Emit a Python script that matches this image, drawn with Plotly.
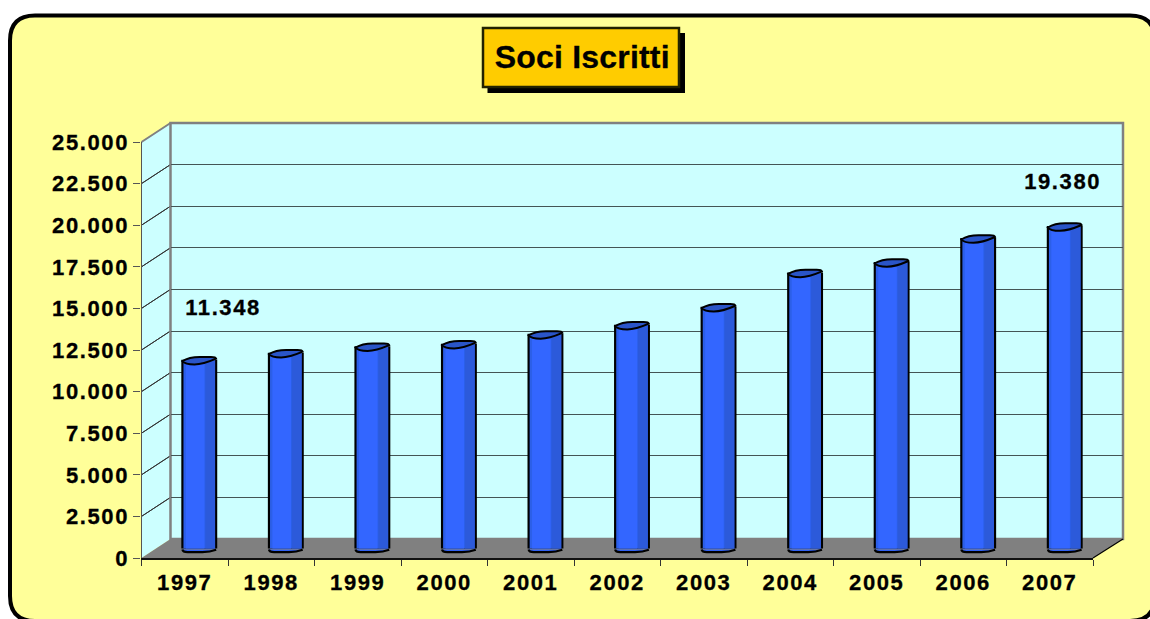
import plotly.graph_objects as go

years = ["1997","1998","1999","2000","2001","2002","2003","2004","2005","2006","2007"]
members = [11348,11770,12160,12310,12900,13450,14530,16590,17220,18660,19380]
y_ticks = [0,2500,5000,7500,10000,12500,15000,17500,20000,22500,25000]
title_text = "Soci Iscritti"
labelled = [0,10]

W,H = 1150,619
FX0,FX1,FY0,FY1 = 141.5,1093,558,142      # front plane (px)
BX0,BX1,BY0,BY1 = 170.5,1123,539,123      # back plane (px)
MX0,MX1 = (FX0+BX0)/2,(FX1+BX1)/2
MY0,MY1 = (FY0+BY0)/2,(FY1+BY1)/2
PPU = (FY0-FY1)/25000
PAD = 600
def px(x): return x/W
def py(y): return 1-y/H
def poly(pts):
    return "M "+" L ".join(f"{px(x):.5f},{py(y):.5f}" for x,y in pts)+" Z"

shapes=[]
def paper(path,fill=None,color=None,width=0,layer="below"):
    shapes.append(dict(type="path",path=path,xref="paper",yref="paper",layer=layer,
        fillcolor=fill or "rgba(0,0,0,0)",line=dict(color=color or "rgba(0,0,0,0)",width=width)))

# outer rounded panel
L,T,R,B,r = 10,15.5,1155,621,25
panel=(f"M {px(L+r)},{py(T)} L {px(R-r)},{py(T)} Q {px(R)},{py(T)} {px(R)},{py(T+r)} "
       f"L {px(R)},{py(B-r)} Q {px(R)},{py(B)} {px(R-r)},{py(B)} L {px(L+r)},{py(B)} "
       f"Q {px(L)},{py(B)} {px(L)},{py(B-r)} L {px(L)},{py(T+r)} Q {px(L)},{py(T)} {px(L+r)},{py(T)} Z")
paper(panel,"#FFFF99","#000000",4)
# title box
paper(poly([(487.5,33),(685,33),(685,93),(487.5,93)]),"#000000")
paper(poly([(483,28),(679,28),(679,87),(483,87)]),"#FFCC00","#222200",2.5)
# walls
paper(poly([(FX0,FY0),(BX0,BY0),(BX0,BY1),(FX0,FY1)]),"#CCFFFF")
paper(poly([(BX0,BY0),(BX1,BY0),(BX1,BY1),(BX0,BY1)]),"#CCFFFF")
paper(poly([(FX0,FY0),(BX0,BY0),(BX1,BY0),(FX1,FY0)]),"#808080")
for v in y_ticks[1:-1]:
    d=v*PPU
    paper(poly([(FX0,FY0-d),(BX0,BY0-d)]),None,"#333333",1)
paper(poly([(BX0,BY0),(BX0,BY1),(BX1,BY1),(BX1,BY0)]),None,"#808080",2.5)
paper(poly([(FX0,FY1),(BX0,BY1)]),None,"#808080",2)
paper(poly([(FX1,FY0),(BX1,BY0)]),None,"#000000",1.2)

# cylinder caps and bases, px offsets converted to data units
bw=0.39; u=1/PPU
for i,v in enumerate(members):
    xl,xr=i-bw/2,i+bw/2
    shapes.append(dict(type="path",xref="x3",yref="y3",layer="above",fillcolor="#3060F0",
        line=dict(color="#000000",width=2.2),
        path=(f"M {xl},{-1*u} Q {xl+0.005},{-3.6*u} {xl+0.06},{-3.6*u} "
              f"L {xr-0.16},{-3.6*u} Q {xr-0.07},{-3.4*u} {xr},{-1.2*u}")))
    shapes.append(dict(type="path",xref="x3",yref="y3",layer="above",fillcolor="#2A55C8",
        line=dict(color="#000000",width=2),
        path=(f"M {xl},{v-1.5*u} C {xl+0.05},{v+1.2*u} {xl+0.12},{v+2.7*u} {xl+0.2},{v+2.7*u} "
              f"L {xr-0.06},{v+2.7*u} Q {xr-0.005},{v+2.7*u} {xr},{v+1*u} "
              f"C {xr-0.08},{v-2*u} {xr-0.18},{v-4.8*u} {xl+0.14},{v-4.8*u} "
              f"Q {xl+0.03},{v-4.8*u} {xl},{v-1.5*u} Z")))

fig=go.Figure()
# back-wall grid
fig.add_trace(go.Scatter(x=[0,1],y=[0,25000],mode="none",xaxis="x",yaxis="y",hoverinfo="skip",showlegend=False))
# front axes
fig.add_trace(go.Scatter(x=years,y=members,mode="none",xaxis="x2",yaxis="y2",hoverinfo="skip",showlegend=False))
# cylinder bodies: vertical strips over a black outline
idx=list(range(len(years)))
strips=[(-bw/2-0.0125,bw+0.025,"#000000"),(-bw/2+0.0125,bw-0.025,"#2C5FE8"),
        (-0.155,0.215,"#3366FF"),(0.07,0.1125,"#2C5ADA")]
for off,wd,col in strips:
    fig.add_trace(go.Bar(x=idx,y=members,width=wd,offset=off,marker=dict(color=col,line=dict(width=0)),
        xaxis="x3",yaxis="y3",hoverinfo="skip",showlegend=False))

font=dict(family="Liberation Sans",size=22,color="#000000")
ann=[dict(text=f"<b>{title_text}</b>",xref="paper",yref="paper",x=px(582.5),y=py(57),showarrow=False,
          xanchor="center",yanchor="middle",font=dict(family="Liberation Sans",size=32,color="#000000"))]
for i,(ax,ay) in zip(labelled,[(223,307.5),(1062,181.5)]):
    ann.append(dict(text=f"<b>{members[i]:,}</b>".replace(",","."),xref="paper",yref="paper",
        x=px(ax),y=py(ay),showarrow=False,xanchor="center",yanchor="middle",font=font))

tickfont=dict(family="Liberation Sans",size=22,color="#000000",weight="bold")
fig.update_layout(
    template="none",
    width=W,height=H,margin=dict(l=0,r=0,t=0,b=0,pad=0),autosize=False,
    paper_bgcolor="#FFFFFF",plot_bgcolor="rgba(0,0,0,0)",separators=",.",barmode="overlay",
    shapes=shapes,annotations=ann,showlegend=False,
    xaxis=dict(domain=[px(BX0),px(BX1)],range=[0,1],visible=False),
    yaxis=dict(domain=[py(BY0),py(BY1)],range=[0,25000],tickvals=y_ticks[1:-1],showgrid=True,
               gridcolor="#445555",gridwidth=1.2,showline=False,zeroline=False,ticks="",showticklabels=False),
    xaxis2=dict(domain=[px(FX0),px(FX1)],type="category",categoryorder="array",categoryarray=years,
                range=[-0.5,10.5],tickson="boundaries",ticks="outside",ticklen=6,tickcolor="#333333",tickwidth=1.2,
                showline=True,linecolor="#111111",linewidth=1.5,showgrid=False,anchor="y2",
                ticklabelstandoff=4,tickfont=tickfont,tickangle=0),
    yaxis2=dict(domain=[py(FY0),py(FY1)],range=[0,25000],tickvals=y_ticks,tickformat=",d",
                ticks="outside",ticklen=7,tickcolor="#555555",tickwidth=1.2,showline=True,linecolor="#555555",
                linewidth=1.2,showgrid=False,zeroline=False,anchor="x2",tickfont=tickfont),
    xaxis3=dict(domain=[px(MX0),px(MX1)],range=[-0.5,10.5],visible=False,anchor="y3"),
    yaxis3=dict(domain=[py(MY0+PAD*PPU),py(MY1)],range=[-PAD,25000],visible=False,anchor="x3"),
)
css=("var s=document.createElement('style');"
     "s.textContent='html,body{margin:0;padding:0;overflow:hidden}"
     ".x2tick text,.y2tick text,.annotation-text{letter-spacing:1.6px;stroke:#000;stroke-width:0.3px}"
     ".annotation[data-index=\"0\"] .annotation-text{letter-spacing:0.2px}"
     "';document.head.appendChild(s);")
fig.write_html("out.html",post_script=css,config=dict(displayModeBar=False))
